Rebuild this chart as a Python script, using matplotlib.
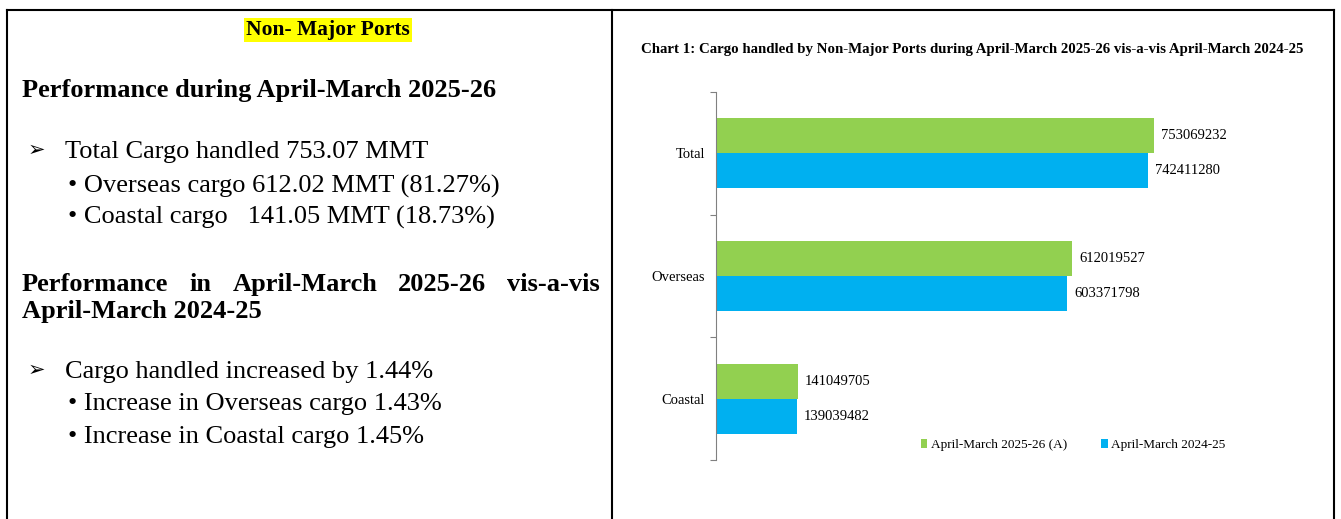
import matplotlib.pyplot as plt
import numpy as np

# data
categories = ['Total', 'Overseas', 'Coastal']
cargo_2025_26 = [753069232, 612019527, 141049705]
cargo_2024_25 = [742411280, 603371798, 139039482]
series_labels = ['April-March 2025-26 (A)', 'April-March 2024-25']
chart_title = ('Chart 1: Cargo handled by Non-Major Ports during '
               'April-March 2025-26 vis-a-vis April-March 2024-25')

W, H = 1341, 519
plt.rcParams['font.family'] = ['Liberation Serif', 'DejaVu Sans']

fig = plt.figure(figsize=(W / 100, H / 100), dpi=100)


def fx(x):
    return x / W


def fy(y):
    return 1 - y / H


# table borders
for x0, y0, x1, y1 in [(7, 10, 1334, 10), (7, 10, 7, 519),
                       (612, 10, 612, 519), (1334, 10, 1334, 519)]:
    fig.add_artist(plt.Line2D([fx(x0), fx(x1)], [fy(y0), fy(y1)],
                              color='black', lw=1.5))

# left panel text
head = 19
body = 19
fig.text(fx(328), fy(35), 'Non- Major Ports', ha='center', va='baseline',
         fontsize=15.5, fontweight='bold',
         bbox=dict(facecolor='#FFFF00', edgecolor='none', pad=1.5))
fig.text(fx(22), fy(97), 'Performance during April-March 2025-26',
         ha='left', va='baseline', fontsize=head, fontweight='bold')

fig.text(fx(28), fy(150), '\u27a2', ha='left', va='center', fontsize=15,
         family=['DejaVu Sans'])
fig.text(fx(65), fy(158), 'Total Cargo handled 753.07 MMT', ha='left',
         va='baseline', fontsize=body)
fig.text(fx(68), fy(193), '\u2022 Overseas cargo 612.02 MMT (81.27%)',
         ha='left', va='baseline', fontsize=body)
fig.text(fx(68), fy(224), '\u2022 Coastal cargo   141.05 MMT (18.73%)',
         ha='left', va='baseline', fontsize=body)

# justified heading line: spread words evenly between x=22 and x=600
words = ['Performance', 'in', 'April-March', '2025-26', 'vis-a-vis']
renderer = fig.canvas.get_renderer()
texts = [fig.text(0, fy(291), w, ha='left', va='baseline', fontsize=head,
                  fontweight='bold') for w in words]
widths = [t.get_window_extent(renderer).width for t in texts]
gap = (600 - 22 - sum(widths)) / (len(words) - 1)
x = 22
for t, w in zip(texts, widths):
    t.set_x(fx(x))
    x += w + gap
fig.text(fx(22), fy(318), 'April-March 2024-25', ha='left', va='baseline',
         fontsize=head, fontweight='bold')

fig.text(fx(28), fy(370), '\u27a2', ha='left', va='center', fontsize=15,
         family=['DejaVu Sans'])
fig.text(fx(65), fy(378), 'Cargo handled increased by 1.44%', ha='left',
         va='baseline', fontsize=body)
fig.text(fx(68), fy(410), '\u2022 Increase in Overseas cargo 1.43%',
         ha='left', va='baseline', fontsize=body)
fig.text(fx(68), fy(443), '\u2022 Increase in Coastal cargo 1.45%',
         ha='left', va='baseline', fontsize=body)

# chart
fig.text(fx(972), fy(50), chart_title, ha='center', va='center',
         fontsize=10.7, fontweight='bold')

ax = fig.add_axes([fx(716), fy(460), fx(1298) - fx(716), (460 - 92) / H])
y = np.arange(len(categories))
h = 0.285
green = '#92D050'
blue = '#00B0F0'
b1 = ax.barh(y - h / 2, cargo_2025_26, height=h, color=green,
             label=series_labels[0])
b2 = ax.barh(y + h / 2, cargo_2024_25, height=h, color=blue,
             label=series_labels[1])
for bars, vals in [(b1, cargo_2025_26), (b2, cargo_2024_25)]:
    for rect, v in zip(bars, vals):
        ax.text(v + 1.2e7, rect.get_y() + rect.get_height() / 2, str(v),
                ha='left', va='center', fontsize=10.5)

ax.set_xlim(0, 1.0e9)
ax.set_ylim(len(categories) - 0.5, -0.5)
for s in ['top', 'right', 'bottom']:
    ax.spines[s].set_visible(False)
ax.spines['left'].set_color('#808080')
ax.set_xticks([])
ax.set_yticks(np.arange(-0.5, len(categories)))
ax.set_yticklabels([])
ax.tick_params(axis='y', which='major', length=4, color='#808080')
ax.set_yticks(y, minor=True)
ax.set_yticklabels(categories, minor=True, fontsize=10.5)
ax.tick_params(axis='y', which='minor', length=0, pad=8)
ax.patch.set_alpha(0)

ax.legend(loc='center', bbox_to_anchor=(fx(1073), fy(445)),
          bbox_transform=fig.transFigure, ncol=2, frameon=False,
          handlelength=0.5, handleheight=0.7, handletextpad=0.25,
          columnspacing=2.6, fontsize=9.5)

fig.savefig('out.png', dpi=100)
